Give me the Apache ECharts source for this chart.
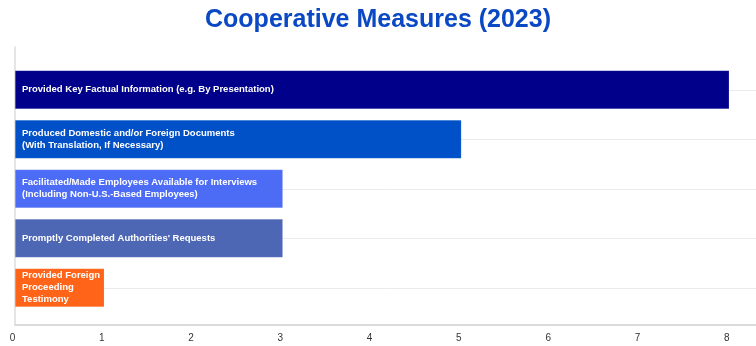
<!DOCTYPE html>
<html>
<head>
<meta charset="utf-8">
<script src="https://cdn.jsdelivr.net/npm/echarts@6/dist/echarts.min.js"></script>
<style>
  html, body { margin: 0; padding: 0; background: #ffffff; }
  #chart { width: 756px; height: 346px; }
</style>
</head>
<body>
<div id="chart"></div>
<script>
// Cooperative measures credited in 2023, one bar per measure
const measures = [
  'Provided Key Factual Information (e.g. By Presentation)',
  'Produced Domestic and/or Foreign Documents\n(With Translation, If Necessary)',
  'Facilitated/Made Employees Available for Interviews\n(Including Non-U.S.-Based Employees)',
  "Promptly Completed Authorities' Requests",
  'Provided Foreign\nProceeding\nTestimony'
];
const counts = [8, 5, 3, 3, 1];
const barColors = ['#00008b', '#0050c8', '#4d6cf6', '#4e67b4', '#ff6419'];
const xTickLabels = ['0', '1', '2', '3', '4', '5', '6', '7', '8'];

const chart = echarts.init(document.getElementById('chart'), null, { renderer: 'canvas' });

const FONT = '"Liberation Sans", Arial, Helvetica, sans-serif';
// value range runs a little past the last labelled tick, up to the right edge
const xMin = 0;
const xMax = 8.3;

const tickText = v => (Number.isInteger(v) && xTickLabels.includes(String(v)) ? String(v) : '');

chart.setOption({
  animation: false,
  backgroundColor: '#ffffff',
  title: {
    text: 'Cooperative Measures (2023)',
    left: 'center',
    top: 3,
    textStyle: { color: '#0a48c4', fontSize: 25, fontWeight: 'bold', fontFamily: FONT }
  },
  grid: [
    // bars
    { left: 15, top: 65, right: 0, height: 247.5, containLabel: false },
    // frame: left rule and bottom value axis
    { left: 15, top: 47, right: 0, height: 278, containLabel: false }
  ],
  xAxis: [
    {
      type: 'value', gridIndex: 0, min: xMin, max: xMax, interval: 1,
      show: false
    },
    {
      type: 'value', gridIndex: 1, min: xMin, max: xMax, interval: 1,
      axisLine: { show: true, lineStyle: { color: '#cfcfcf', width: 1.5 } },
      axisTick: { show: false },
      splitLine: { show: false },
      axisLabel: {
        color: '#333333', fontSize: 10, fontFamily: FONT, margin: 8,
        padding: [0, 5, 0, 0],
        showMaxLabel: false,
        formatter: tickText
      }
    }
  ],
  yAxis: [
    {
      type: 'category', gridIndex: 0, inverse: true, data: measures,
      axisLine: { show: false },
      axisTick: { show: false },
      axisLabel: { show: false },
      splitLine: { show: true, alignWithLabel: true, lineStyle: { color: '#ebebeb', width: 1 } }
    },
    {
      type: 'category', gridIndex: 1, data: [''],
      axisLine: { show: true, lineStyle: { color: '#dddddd', width: 1.5 } },
      axisTick: { show: false },
      axisLabel: { show: false },
      splitLine: { show: false }
    }
  ],
  series: [
    {
      type: 'bar',
      xAxisIndex: 0,
      yAxisIndex: 0,
      barWidth: '78%',
      data: counts.map((v, i) => ({
        value: v,
        itemStyle: { color: barColors[i] }
      })),
      itemStyle: { borderColor: 'rgba(255,255,255,0.25)', borderWidth: 0.5 },
      label: {
        show: true,
        position: 'insideLeft',
        distance: 7,
        formatter: p => measures[p.dataIndex],
        color: '#ffffff',
        fontSize: 9.5,
        fontWeight: 'bold',
        fontFamily: FONT,
        lineHeight: 12,
        align: 'left'
      }
    }
  ]
});
</script>
</body>
</html>
